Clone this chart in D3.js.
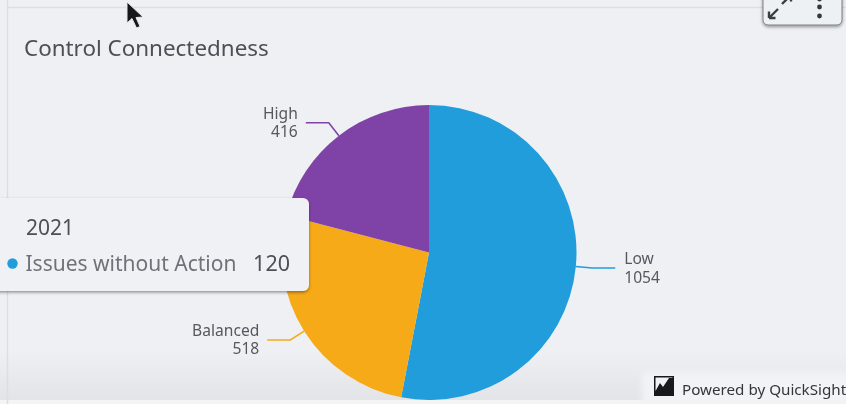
<!DOCTYPE html>
<html>
<head>
<meta charset="utf-8">
<script src="https://cdn.jsdelivr.net/npm/d3@7"></script>
<style>
  html, body { margin: 0; padding: 0; background: #eef0f4; overflow: hidden; }
  svg { display: block; font-family: "Noto Sans", "Open Sans", sans-serif; filter: blur(0.45px); }
</style>
</head>
<body>
<div id="chart"></div>
<script>
// chart values
var categories = ["Low", "Balanced", "High"];
var values = [1054, 518, 416];
var colors = ["#229ddb", "#f6aa17", "#7f43a7"];
var chartTitle = "Control Connectedness";
var tooltipYear = "2021";
var tooltipLabel = "Issues without Action";
var tooltipValue = "120";

var width = 846, height = 404;
var cx = 429, cy = 252.5, radius = 147.5;

var svg = d3.select("#chart")
    .append("svg")
    .attr("width", width)
    .attr("height", height);

var defs = svg.append("defs");

// dark band along the bottom of the screen capture
var fade = defs.append("linearGradient")
    .attr("id", "fade")
    .attr("x1", 0).attr("x2", 0).attr("y1", 0).attr("y2", 1);
fade.append("stop").attr("offset", "0%").attr("stop-color", "#e2e4e7").attr("stop-opacity", 0);
fade.append("stop").attr("offset", "100%").attr("stop-color", "#e2e4e7").attr("stop-opacity", 1);

// footer patch fades in from the left and the top
var footerFade = defs.append("linearGradient")
    .attr("id", "footerFade")
    .attr("x1", 0).attr("x2", 1).attr("y1", 0).attr("y2", 0);
footerFade.append("stop").attr("offset", "0%").attr("stop-color", "#f2f3f5").attr("stop-opacity", 0);
footerFade.append("stop").attr("offset", "8%").attr("stop-color", "#f2f3f5").attr("stop-opacity", 1);

var footerBlur = defs.append("filter")
    .attr("id", "footerBlur")
    .attr("x", "-5%").attr("y", "-30%").attr("width", "110%").attr("height", "160%");
footerBlur.append("feGaussianBlur").attr("stdDeviation", 3);

var shadow = defs.append("filter")
    .attr("id", "shadow")
    .attr("x", "-10%").attr("y", "-20%").attr("width", "120%").attr("height", "140%");
shadow.append("feDropShadow")
    .attr("dx", 0).attr("dy", 1.5)
    .attr("stdDeviation", 1.5)
    .attr("flood-color", "#000")
    .attr("flood-opacity", 0.4);

// background
svg.append("rect")
    .attr("width", width).attr("height", height)
    .attr("fill", "#eef0f4");
svg.append("rect")
    .attr("y", 350).attr("width", width).attr("height", 50)
    .attr("fill", "url(#fade)");
svg.append("rect")
    .attr("y", 400).attr("width", width).attr("height", 4)
    .attr("fill", "#f3f4f6");

// panel edges
svg.append("line")
    .attr("x1", 7).attr("x2", width).attr("y1", 7.5).attr("y2", 7.5)
    .attr("stroke", "#dcdee2").attr("stroke-width", 1.5);
svg.append("line")
    .attr("x1", 7.5).attr("x2", 7.5).attr("y1", 0).attr("y2", height)
    .attr("stroke", "#dcdee2").attr("stroke-width", 1.5);

svg.append("text")
    .attr("x", 24).attr("y", 56)
    .attr("font-size", 22.4)
    .attr("fill", "#4c5056")
    .text(chartTitle);

// pie
var pie = d3.pie().sort(null).value(function (d) { return d; });
var arcs = pie(values);
var arc = d3.arc().innerRadius(0).outerRadius(radius);
var rimArc = d3.arc().innerRadius(radius).outerRadius(radius);
var elbowArc = d3.arc().innerRadius(radius + 16.5).outerRadius(radius + 16.5);

var g = svg.append("g")
    .attr("transform", "translate(" + cx + "," + cy + ")");

g.selectAll("path.slice")
    .data(arcs)
    .enter()
    .append("path")
    .attr("class", "slice")
    .attr("d", arc)
    .attr("fill", function (d, i) { return colors[i]; });

function isRight(d) {
    return (d.startAngle + d.endAngle) / 2 < Math.PI;
}

// leader lines
g.selectAll("polyline")
    .data(arcs)
    .enter()
    .append("polyline")
    .attr("fill", "none")
    .attr("stroke", function (d, i) { return colors[i]; })
    .attr("stroke-width", 1.6)
    .attr("points", function (d) {
        var a = rimArc.centroid(d), b = elbowArc.centroid(d);
        var end = b[0] + (isRight(d) ? 23 : -23);
        return [a, b, [end, b[1]]].map(String).join(" ");
    });

// labels, name over value
var labels = g.selectAll("text.label")
    .data(arcs)
    .enter()
    .append("text")
    .attr("class", "label")
    .attr("font-size", 15.6)
    .attr("fill", "#55595f")
    .attr("text-anchor", function (d) { return isRight(d) ? "start" : "end"; })
    .attr("transform", function (d) {
        var b = elbowArc.centroid(d);
        return "translate(" + (b[0] + (isRight(d) ? 32 : -31)) + "," + b[1] + ")";
    });
labels.append("tspan")
    .attr("x", 0)
    .attr("y", -4)
    .text(function (d, i) { return categories[i]; });
labels.append("tspan")
    .attr("x", 0)
    .attr("y", 14.5)
    .text(function (d, i) { return values[i]; });

// hover tooltip sits over the pie
var tip = svg.append("g");
tip.append("rect")
    .attr("x", -12).attr("y", 198)
    .attr("width", 321).attr("height", 93)
    .attr("rx", 6)
    .attr("fill", "#eff1f5")
    .attr("filter", "url(#shadow)");
tip.append("text")
    .attr("x", 26).attr("y", 235)
    .attr("font-size", 21)
    .attr("fill", "#4c5056")
    .text(tooltipYear);
tip.append("circle")
    .attr("cx", 12.5).attr("cy", 263.5).attr("r", 5.2)
    .attr("fill", colors[0]);
tip.append("text")
    .attr("x", 25.5).attr("y", 271)
    .attr("font-size", 21)
    .attr("fill", "#6f7379")
    .text(tooltipLabel);
tip.append("text")
    .attr("x", 290).attr("y", 271)
    .attr("text-anchor", "end")
    .attr("font-size", 21.5)
    .attr("fill", "#4c5056")
    .text(tooltipValue);

// toolbar in the top right corner
var tools = svg.append("g");
tools.append("rect")
    .attr("x", 763).attr("y", -12)
    .attr("width", 79).attr("height", 37)
    .attr("rx", 5)
    .attr("fill", "#eef1f4")
    .attr("stroke", "#7b7f84")
    .attr("stroke-width", 1)
    .attr("filter", "url(#shadow)");
tools.append("path")
    .attr("d", "M769 18L778 9M769 18V11.5M769 18H775.5M782 4L791 -5M791 -5V1.5M791 -5H784.5")
    .attr("fill", "none")
    .attr("stroke", "#3a3d41")
    .attr("stroke-width", 2.4);
tools.selectAll("circle.dot")
    .data([-1, 7, 16])
    .enter()
    .append("circle")
    .attr("class", "dot")
    .attr("cx", 819.5)
    .attr("cy", function (d) { return d; })
    .attr("r", 2.4)
    .attr("fill", "#34373b");

// mouse pointer
svg.append("path")
    .attr("d", "M127 2L127 23L132 18.5L136.5 28L140 26.5L136 17.5L143 17Z")
    .attr("fill", "#15171a")
    .attr("stroke", "#e4e6ea")
    .attr("stroke-width", 1);

// brand footer
svg.append("rect")
    .attr("x", 642).attr("y", 372)
    .attr("width", 214).attr("height", 40)
    .attr("fill", "#f2f3f5")
    .attr("filter", "url(#footerBlur)");
var brand = svg.append("g");
brand.append("rect")
    .attr("x", 654).attr("y", 376)
    .attr("width", 20).attr("height", 20)
    .attr("fill", "#17191c");
brand.append("path")
    .attr("d", "M655.5 391L660 383L663 387L669 378H672.5V377.5H655.5Z")
    .attr("fill", "#f1f2f4");
svg.append("text")
    .attr("x", 682).attr("y", 395)
    .attr("font-size", 15.2)
    .attr("fill", "#33363a")
    .text("Powered by QuickSight");
</script>
</body>
</html>
